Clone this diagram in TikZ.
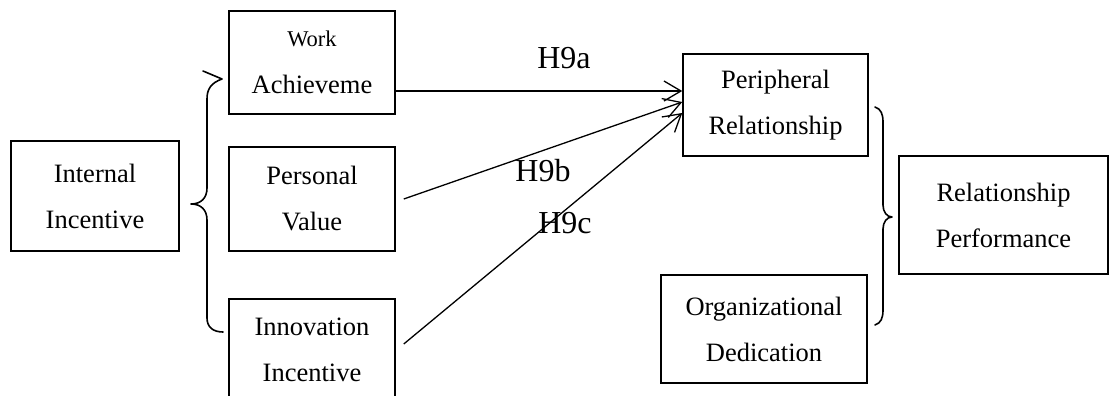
\documentclass[tikz,border=0pt]{standalone}
\usepackage{fontspec}
\setmainfont{Liberation Serif}
\usetikzlibrary{arrows.meta}

\tikzset{
  box/.style={draw, line width=1.5pt, inner sep=0pt, align=center,
    font=\fontsize{26.5}{46}\selectfont},
  hyp/.style={font=\fontsize{32}{38}\selectfont, inner sep=0pt},
  link/.style={line width=1.3pt, -{Straight Barb[length=17pt,width=20pt,line width=1.3pt]}},
  bracket/.style={line width=1.6pt, line cap=round, line join=round}
}

\begin{document}
\begin{tikzpicture}[x=1pt,y=-1pt]
\useasboundingbox (0,0) rectangle (1111,396);
\clip (0,0) rectangle (1111,396);

% constructs
\node[box, minimum width=168pt, minimum height=110pt] (ii) at (95,196) {Internal\\Incentive};
\node[box, minimum width=166pt, minimum height=103pt] (wa) at (312,62.5)
  {{\fontsize{22.5}{22}\selectfont Work}\\[1pt]Achieveme};
\node[box, minimum width=166pt, minimum height=104pt] (pv) at (312,199) {Personal\\Value};
\node[box, minimum width=166pt, minimum height=102pt] (inn) at (312,350) {Innovation\\Incentive};
\node[box, minimum width=185pt, minimum height=102pt] (pr) at (775.5,105) {Peripheral\\Relationship};
\node[box, minimum width=206pt, minimum height=108pt] (od) at (764,329) {Organizational\\Dedication};
\node[box, minimum width=209pt, minimum height=118pt] (rp) at (1003.5,215) {Relationship\\Performance};

% hypothesised paths
\draw[link] ([yshift=-28.5pt]wa.east) -- ([yshift=14pt]pr.west);
\draw[link] ([xshift=8pt]pv.east) -- ([yshift=3pt]pr.west);
\draw[link] ([xshift=8pt,yshift=6pt]inn.east) -- ([yshift=-8pt]pr.west);

\node[hyp] (h9a) at (564,58) {H9a};
\node[hyp] (h9b) at (543,171) {H9b};
\node[hyp] (h9c) at (565,223) {H9c};

% grouping brace on the incentive side
\draw[bracket] (203,71) -- (222,79)
  .. controls (211,83) and (207,89) .. (207,99) -- (207,188)
  .. controls (207,198) and (201,204) .. (191,204)
  .. controls (201,204) and (207,210) .. (207,220) -- (207,318)
  .. controls (207,327) and (213,332) .. (223,332);

% grouping brace on the performance side
\draw[bracket] (875,107)
  .. controls (881,109) and (883,114) .. (883,122) -- (883,205)
  .. controls (883,212) and (887,217) .. (892,217)
  .. controls (887,217) and (883,222) .. (883,229) -- (883,310)
  .. controls (883,318) and (881,323) .. (875,325);
\end{tikzpicture}
\end{document}
